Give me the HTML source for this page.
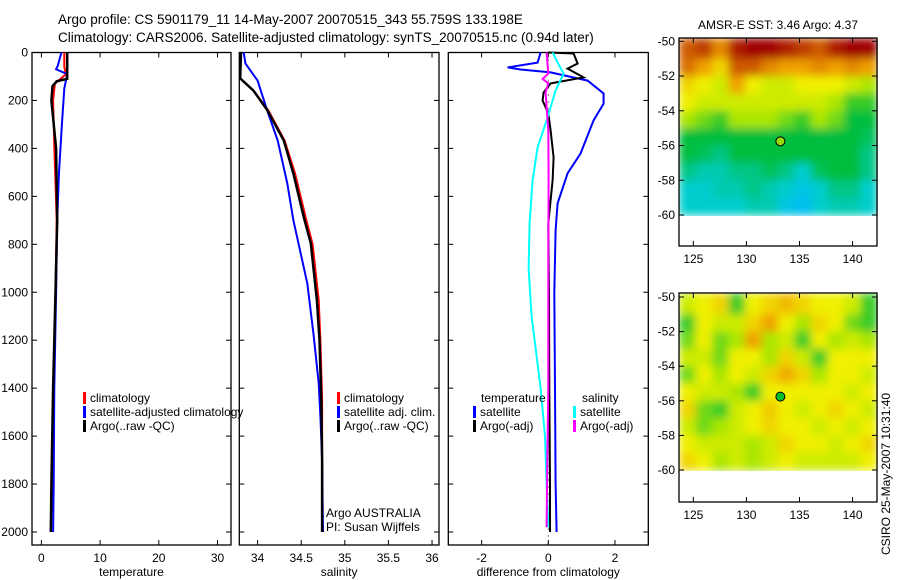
<!DOCTYPE html>
<html><head><meta charset="utf-8">
<style>
html,body{margin:0;padding:0;background:#fff;}
svg{display:block;font-family:"Liberation Sans",sans-serif;}
</style></head>
<body>
<svg id="fig" width="900" height="580" viewBox="0 0 900 580" xmlns="http://www.w3.org/2000/svg">
<defs>
<filter id="smooth" x="0" y="0" width="1" height="1"><feGaussianBlur stdDeviation="4.5" edgeMode="duplicate"/></filter>
</defs>
<text x="58" y="24" font-size="13.5">Argo profile: CS 5901179_11 14-May-2007 20070515_343 55.759S 133.198E</text>
<text x="58" y="42" font-size="13.5">Climatology: CARS2006. Satellite-adjusted climatology: synTS_20070515.nc (0.94d later)</text>
<text x="778" y="29" font-size="12" text-anchor="middle">AMSR-E SST: 3.46 Argo: 4.37</text>
<text x="778" y="316" font-size="12" text-anchor="middle">Altimetric SLA: 0.15 Argo: 0.0048</text>
<text transform="translate(890,555) rotate(-90)" font-size="12">CSIRO 25-May-2007 10:31:40</text>
</svg>
<script>
// ---------- Profile data (depth in dbar) ----------
const tClimDepth=[0,60,90,130,200,390,700,1000,1400,1800,2000];
const tClimVal=[3.9,3.9,4.2,2.3,2.0,2.2,2.6,2.4,2.1,1.8,1.6];
const tSatDepth=[0,55,70,90,150,300,500,700,1000,1400,1800,2000];
const tSatVal=[3.4,2.8,2.5,4.4,3.9,3.5,3.0,2.7,2.5,2.2,2.1,2.0];
const tArgoDepth=[0,110,120,140,200,400,700,1000,1400,1800,2000];
const tArgoVal=[4.4,4.4,2.6,1.9,1.7,2.5,2.7,2.4,2.0,1.7,1.6];

const sClimDepth=[0,108,158,240,367,505,687,800,1033,1200,1450,1700,2000];
const sClimVal=[33.81,33.80,33.95,34.12,34.31,34.43,34.55,34.63,34.70,34.72,34.74,34.74,34.74];
const sSatDepth=[0,46,117,242,367,546,700,963,1171,1379,1517,1700,2000];
const sSatVal=[33.84,33.86,34.0,34.11,34.23,34.34,34.41,34.57,34.64,34.70,34.72,34.74,34.75];
const sArgoDepth=[0,108,158,240,367,505,687,796,1033,1200,1450,1700,2000];
const sArgoVal=[33.81,33.80,33.95,34.11,34.30,34.41,34.53,34.61,34.68,34.71,34.73,34.74,34.74];

const dTSatDepth=[0,42,62,71,83,117,171,213,283,421,504,629,742,1000,1400,1800,2000];
const dTSatVal=[-0.23,-0.32,-1.22,-0.83,0.07,1.18,1.66,1.66,1.36,0.97,0.58,0.28,0.22,0.18,0.2,0.22,0.25];
const dTArgoDepth=[0,4,46,67,104,129,167,200,254,325,438,533,713,1000,1400,1800,2000];
const dTArgoVal=[0.0,0.76,0.88,0.58,1.06,0.07,-0.14,-0.17,0.0,0.07,0.16,0.13,0.0,0.02,0.03,0.05,0.05];
const dSSatDepth=[0,42,88,158,271,396,533,712,900,1100,1400,1600,1800,1980];
const dSSatVal=[0.13,0.28,0.46,0.22,-0.02,-0.32,-0.47,-0.56,-0.59,-0.5,-0.23,-0.1,-0.05,0.0];
const dSArgoDepth=[0,88,110,129,167,325,533,800,1100,1400,1700,1980];
const dSArgoVal=[-0.05,0.0,-0.17,0.0,-0.08,0.0,0.01,0.0,0.0,0.0,-0.03,-0.05];

// ---------- Map data (rows: -50 -> -60, cols: west -> east), colormap index 0..1 ----------
const sstRow1=[0.85,0.9,0.75,0.95,1,1,0.95,0.9,0.85,0.95,1,1];
const sstRow2=[0.8,0.7,0.6,0.85,0.85,0.75,0.7,0.7,0.75,0.7,0.75,0.7];
const sstRow3=[0.6,0.55,0.5,0.7,0.55,0.5,0.5,0.55,0.55,0.55,0.5,0.45];
const sstRow4=[0.55,0.5,0.5,0.5,0.5,0.5,0.5,0.5,0.5,0.45,0.35,0.35];
const sstRow5=[0.45,0.4,0.35,0.45,0.45,0.45,0.4,0.35,0.45,0.4,0.3,0.3];
const sstRow6=[0.3,0.3,0.3,0.3,0.3,0.3,0.3,0.3,0.3,0.3,0.3,0.28];
const sstRow7=[0.3,0.28,0.25,0.3,0.3,0.3,0.3,0.3,0.3,0.3,0.3,0.25];
const sstRow8=[0.25,0.22,0.22,0.25,0.25,0.28,0.25,0.2,0.28,0.3,0.3,0.25];
const sstRow9=[0.2,0.2,0.22,0.22,0.25,0.22,0.2,0.15,0.2,0.25,0.25,0.2];
const sstRow10=[0.2,0.2,0.2,0.2,0.22,0.22,0.15,0.12,0.2,0.22,0.22,0.2];
const sstRows=[sstRow1,sstRow2,sstRow3,sstRow4,sstRow5,sstRow6,sstRow7,sstRow8,sstRow9,sstRow10];

const slaRow1=[0.5,0.55,0.6,0.35,0.55,0.6,0.65,0.6,0.55,0.55,0.5,0.35];
const slaRow2=[0.35,0.55,0.5,0.5,0.6,0.7,0.55,0.45,0.6,0.55,0.4,0.35];
const slaRow3=[0.4,0.55,0.4,0.45,0.7,0.45,0.5,0.35,0.55,0.45,0.5,0.45];
const slaRow4=[0.5,0.5,0.4,0.55,0.55,0.45,0.6,0.5,0.35,0.55,0.55,0.55];
const slaRow5=[0.4,0.55,0.45,0.55,0.5,0.6,0.68,0.6,0.45,0.55,0.55,0.5];
const slaRow6=[0.55,0.5,0.5,0.45,0.35,0.55,0.55,0.55,0.55,0.55,0.5,0.55];
const slaRow7=[0.6,0.4,0.35,0.5,0.55,0.62,0.55,0.5,0.55,0.6,0.55,0.5];
const slaRow8=[0.5,0.4,0.45,0.5,0.55,0.6,0.55,0.55,0.5,0.55,0.5,0.55];
const slaRow9=[0.55,0.5,0.5,0.5,0.45,0.5,0.6,0.55,0.55,0.5,0.55,0.6];
const slaRow10=[0.6,0.55,0.45,0.5,0.45,0.5,0.55,0.5,0.5,0.5,0.5,0.55];
const slaRows=[slaRow1,slaRow2,slaRow3,slaRow4,slaRow5,slaRow6,slaRow7,slaRow8,slaRow9,slaRow10];

const argoLon=133.198, argoLat=-55.759;
const depthTicks=[0,200,400,600,800,1000,1200,1400,1600,1800,2000];
const tempTicks=[0,10,20,30];
const salTicks=[34,34.5,35,35.5,36];
const diffTicks=[-2,0,2];
const latTicks=[-50,-52,-54,-56,-58,-60];
const lonTicks=[125,130,135,140];

const NS="http://www.w3.org/2000/svg";
const svg=document.getElementById('fig');
function mk(tag,attrs,parent){const e=document.createElementNS(NS,tag);for(const k in attrs)e.setAttribute(k,attrs[k]);(parent||svg).appendChild(e);return e;}
function txt(x,y,s,size,anchor,parent){const t=mk('text',{x:x,y:y,'font-size':size,'text-anchor':anchor||'start'},parent);t.textContent=s;return t;}

const PT=52.5, PB=545;
const dY=d=>PT+d*(532-52.5)/2000;

function panel(name,x0,x1,v0,v1,ticks,label,showDepth){
  const g=mk('g',{});
  
  
  const sx=v=>x0+(v-v0)*(x1-x0)/(v1-v0);
  const r=mk('rect',{x:x0,y:PT,width:x1-x0,height:PB-PT,fill:'none',stroke:'#000','stroke-width':1.3},g);
  
  
  ticks.forEach(v=>{const x=sx(v);
    mk('line',{x1:x,y1:PT,x2:x,y2:PT+5,stroke:'#000'},g);
    mk('line',{x1:x,y1:PB,x2:x,y2:PB-5,stroke:'#000'},g);
    const t=txt(x,562,String(v),12,'middle',g);
    
    
  });
  depthTicks.forEach(d=>{const y=dY(d);
    mk('line',{x1:x0,y1:y,x2:x0+5,y2:y,stroke:'#000'},g);
    mk('line',{x1:x1,y1:y,x2:x1-5,y2:y,stroke:'#000'},g);
    if(showDepth){const t=txt(x0-4,y+4,String(d),12,'end',g);
      
      }
  });
  const xl=txt((x0+x1)/2,576,label,12,'middle',g);
  
  
  return {g,sx};
}
function series(p,depths,vals,color,name,w){
  let pts=[];
  for(let i=0;i<depths.length;i++){pts.push(p.sx(vals[i]).toFixed(1)+','+dY(depths[i]).toFixed(1));}
  const l=mk('polyline',{points:pts.join(' '),fill:'none',stroke:color,'stroke-width':w||2},p.g);
  
  
}
function legend(g,x,y,color,label,name){
  mk('rect',{x:x,y:y-10,width:3,height:12,fill:color},g);
  const t=txt(x+7,y,label,12,'start',g);
  
  
}

// temperature
const pT=panel('temperature',32,231,-1.6,32.3,tempTicks,'temperature',true);
series(pT,tClimDepth,tClimVal,'#f00','temp-climatology-line');
series(pT,tSatDepth,tSatVal,'#00f','temp-satellite-line');
series(pT,tArgoDepth,tArgoVal,'#000','temp-argo-line',2.5);
legend(pT.g,83,402,'#f00','climatology','legend-climatology');
legend(pT.g,83,416,'#00f','satellite-adjusted climatology','legend-satellite-adjusted');
legend(pT.g,83,430,'#000','Argo(..raw -QC)','legend-argo');

// salinity
const pS=panel('salinity',239.3,439,33.79,36.08,salTicks,'salinity',false);
series(pS,sClimDepth,sClimVal,'#f00','sal-climatology-line');
series(pS,sSatDepth,sSatVal,'#00f','sal-satellite-line');
series(pS,sArgoDepth,sArgoVal,'#000','sal-argo-line',2.5);
legend(pS.g,337,402,'#f00','climatology','legend-sal-climatology');
legend(pS.g,337,416,'#00f','satellite adj. clim.','legend-sal-satellite');
legend(pS.g,337,430,'#000','Argo(..raw -QC)','legend-sal-argo');
txt(326,517,'Argo AUSTRALIA',12,'start',pS.g);
txt(326,531,'PI: Susan Wijffels',12,'start',pS.g);

// difference
const pD=panel('difference',448.3,648.3,-3.0,3.0,diffTicks,'difference from climatology',false);
mk('line',{x1:pD.sx(0),y1:PT,x2:pD.sx(0),y2:PB,stroke:'#000','stroke-width':1,'stroke-dasharray':'1,6'},pD.g);
series(pD,dTSatDepth,dTSatVal,'#00f','diff-temp-satellite-line');
series(pD,dTArgoDepth,dTArgoVal,'#000','diff-temp-argo-line');
series(pD,dSSatDepth,dSSatVal,'#0ff','diff-sal-satellite-line');
series(pD,dSArgoDepth,dSArgoVal,'#f0f','diff-sal-argo-line');
txt(481,402,'temperature',12,'start',pD.g);
legend(pD.g,473,416,'#00f','satellite','legend-diff-temp-satellite');
legend(pD.g,473,430,'#000','Argo(-adj)','legend-diff-temp-argo');
txt(582,402,'salinity',12,'start',pD.g);
legend(pD.g,573,416,'#0ff','satellite','legend-diff-sal-satellite');
legend(pD.g,573,430,'#f0f','Argo(-adj)','legend-diff-sal-argo');

// ---------- maps ----------
const cStops=[[0,[0,150,255]],[0.12,[0,190,240]],[0.2,[0,205,205]],[0.3,[0,190,60]],[0.45,[170,230,0]],[0.55,[240,240,0]],[0.7,[240,160,0]],[0.85,[205,90,0]],[1,[160,0,0]]];
function cmap(v){for(let i=1;i<cStops.length;i++){if(v<=cStops[i][0]){const a=cStops[i-1],b=cStops[i];const f=(v-a[0])/(b[0]-a[0]);const c=a[1].map((x,k)=>Math.round(x+(b[1][k]-x)*f));return 'rgb('+c.join(',')+')';}}return 'rgb(160,0,0)';}

function mapPanel(name,top,lat50y,lat60y,bottom,rows,dotColor){
  const g=mk('g',{});
  
  
  const L=679,R=877;
  const lon0=123.65, lon1=142.3;
  const sx=lon=>L+(lon-lon0)*(R-L)/(lon1-lon0);
  const sy=lat=>lat50y+(-50-lat)*(lat60y-lat50y)/10;
  const nr=rows.length, nc=rows[0].length;
  const cw=(R-L)/nc;
  const cells=mk('g',{filter:'url(#smooth)'},g);
  
  
  for(let i=0;i<nr;i++){
    const yA=i===0?top:sy(-50-i*10/nr), yB=sy(-50-(i+1)*10/nr);
    for(let j=0;j<nc;j++){
      const c=mk('rect',{x:(L+j*cw).toFixed(2),y:yA.toFixed(2),width:(cw+0.6).toFixed(2),height:(yB-yA+0.6).toFixed(2),fill:cmap(rows[i][j])},cells);
      
      
    }
  }
  const f=mk('rect',{x:L,y:top,width:R-L,height:bottom-top,fill:'none',stroke:'#000','stroke-width':1.3},g);
  
  
  latTicks.forEach(v=>{const y=sy(v);
    mk('line',{x1:L,y1:y,x2:L+5,y2:y,stroke:'#000'},g);
    mk('line',{x1:R,y1:y,x2:R-5,y2:y,stroke:'#000'},g);
    const t=txt(L-4,y+4,String(v),12,'end',g);
    
    });
  lonTicks.forEach(v=>{const x=sx(v);
    mk('line',{x1:x,y1:top,x2:x,y2:top+5,stroke:'#000'},g);
    mk('line',{x1:x,y1:bottom,x2:x,y2:bottom-5,stroke:'#000'},g);
    const t=txt(x,bottom+17,String(v),12,'middle',g);
    
    });
  const d=mk('circle',{cx:sx(argoLon),cy:sy(argoLat),r:4.5,fill:dotColor,stroke:'#000','stroke-width':1},g);
  
  
}
mapPanel('sst',38,41.3,215,246,sstRows,'rgb(150,220,0)');
mapPanel('sla',293,297,470,502,slaRows,'rgb(0,190,40)');
</script>
</body></html>
